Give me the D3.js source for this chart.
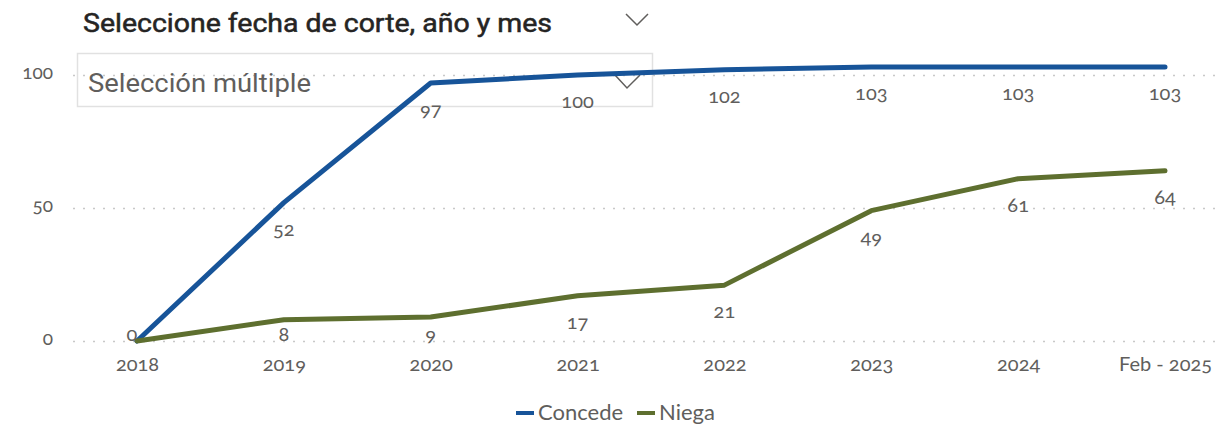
<!DOCTYPE html>
<html>
<head>
<meta charset="utf-8">
<script src="https://cdn.jsdelivr.net/npm/d3@7"></script>
<style>
  body { margin: 0; background: #fff; }
  svg text { font-family: Lato, "Open Sans", sans-serif; font-variant-numeric: oldstyle-nums; }
</style>
</head>
<body>
<div id="chart"></div>
<script>
// data
const periods = ['2018', '2019', '2020', '2021', '2022', '2023', '2024', 'Feb - 2025']
const concede = [0, 52, 97, 100, 102, 103, 103, 103]
const niega = [0, 8, 9, 17, 21, 49, 61, 64]
const yTicks = [0, 50, 100]
const seriesNames = ['Concede', 'Niega']
const seriesColors = ['#175499', '#5e6f2f']

const width = 1216, height = 428
const margin = {top: 48, right: 51, bottom: 87, left: 137}

let svg = d3.select('#chart').append('svg')
    .attr('width', width)
    .attr('height', height)

let xScale = d3.scalePoint()
    .domain(periods)
    .range([margin.left, width - margin.right])

let yScale = d3.scaleLinear()
    .domain([0, 110])
    .range([height - margin.bottom, height - margin.bottom - 2.66 * 110])

// gridlines
let yAxis = d3.axisLeft(yScale)
    .tickValues(yTicks)
    .tickSize(-(width - 73))
svg.append('g')
    .attr('class', 'yAxis')
    .attr('transform', 'translate(73,0)')
    .call(yAxis)
    .call(g => g.select('.domain').remove())
    .call(g => g.selectAll('.tick line')
        .attr('stroke', '#c8c8c8')
        .attr('stroke-width', 1.5)
        .attr('stroke-dasharray', '2,8'))
    .call(g => g.selectAll('.tick text')
        .attr('fill', '#605e5c')
        .attr('font-size', 19)
        .attr('x', -20)
        .attr('dy', '0.2em'))

let xAxis = d3.axisBottom(xScale).tickSize(0).tickPadding(16)
svg.append('g')
    .attr('class', 'xAxis')
    .attr('transform', 'translate(0,' + (height - margin.bottom) + ')')
    .call(xAxis)
    .call(g => g.select('.domain').remove())
    .call(g => g.selectAll('.tick text')
        .attr('fill', '#605e5c')
        .attr('font-size', 20))

// slicer header + box
svg.append('text')
    .attr('x', 83)
    .attr('y', 32)
    .attr('fill', '#252423')
    .attr('font-size', 25)
    .attr('textLength', 469)
    .attr('lengthAdjust', 'spacingAndGlyphs')
    .style('font-family', 'Roboto, sans-serif')
    .style('stroke', '#252423')
    .style('stroke-width', 0.5)
    .text('Seleccione fecha de corte, año y mes')

svg.append('path')
    .attr('d', 'M626,14 L637,25 L648,14')
    .attr('fill', 'none')
    .attr('stroke', '#605e5c')
    .attr('stroke-width', 1.5)

svg.append('rect')
    .attr('x', 77.5).attr('y', 53.5)
    .attr('width', 575).attr('height', 53)
    .attr('fill', 'none')
    .attr('stroke', '#e1e1e1')
    .attr('stroke-width', 1.5)

svg.append('text')
    .attr('x', 88)
    .attr('y', 92)
    .attr('fill', '#605e5c')
    .attr('font-size', 26)
    .attr('textLength', 223)
    .attr('lengthAdjust', 'spacingAndGlyphs')
    .style('font-family', 'Roboto, sans-serif')
    .text('Selección múltiple')

svg.append('path')
    .attr('d', 'M615,75 L627,88 L640,75')
    .attr('fill', 'none')
    .attr('stroke', '#605e5c')
    .attr('stroke-width', 1.5)

// lines
let seriesData = [concede, niega]
let line = d3.line()
    .x((d, i) => xScale(periods[i]))
    .y(d => yScale(d))

svg.append('g').attr('class', 'lines')
    .selectAll('path')
    .data(seriesData)
    .enter().append('path')
    .attr('d', d => line(d))
    .attr('fill', 'none')
    .attr('stroke', (d, i) => seriesColors[i])
    .attr('stroke-width', 5)
    .attr('stroke-linecap', 'round')
    .attr('stroke-linejoin', 'round')

// data labels (below points, kept inside the plot; the shared zero only once)
let labelData = []
seriesData.forEach((vals, s) => {
    vals.forEach((v, i) => {
        if (s == 1 && i == 0) return
        labelData.push({s: s, i: i, v: v})
    })
})
let plotBottom = yScale(0)
svg.append('g').attr('class', 'labels')
    .selectAll('text')
    .data(labelData)
    .enter().append('text')
    .attr('x', d => xScale(periods[d.i]) + (d.v == 0 ? -5 : 0))
    .attr('y', d => Math.min(yScale(d.v) + 33, plotBottom))
    .attr('text-anchor', 'middle')
    .attr('fill', '#605e5c')
    .attr('font-size', 20)
    .text(d => d.v)

// legend
let legend = svg.append('g').attr('class', 'legend')
let legendX = [516, 637]
seriesNames.forEach((name, i) => {
    legend.append('line')
        .attr('x1', legendX[i]).attr('x2', legendX[i] + 18)
        .attr('y1', 413).attr('y2', 413)
        .attr('stroke', seriesColors[i])
        .attr('stroke-width', 4)
    legend.append('text')
        .attr('x', legendX[i] + 22)
        .attr('y', 420)
        .attr('fill', '#605e5c')
        .attr('font-size', 22)
        .text(name)
})
</script>
</body>
</html>
